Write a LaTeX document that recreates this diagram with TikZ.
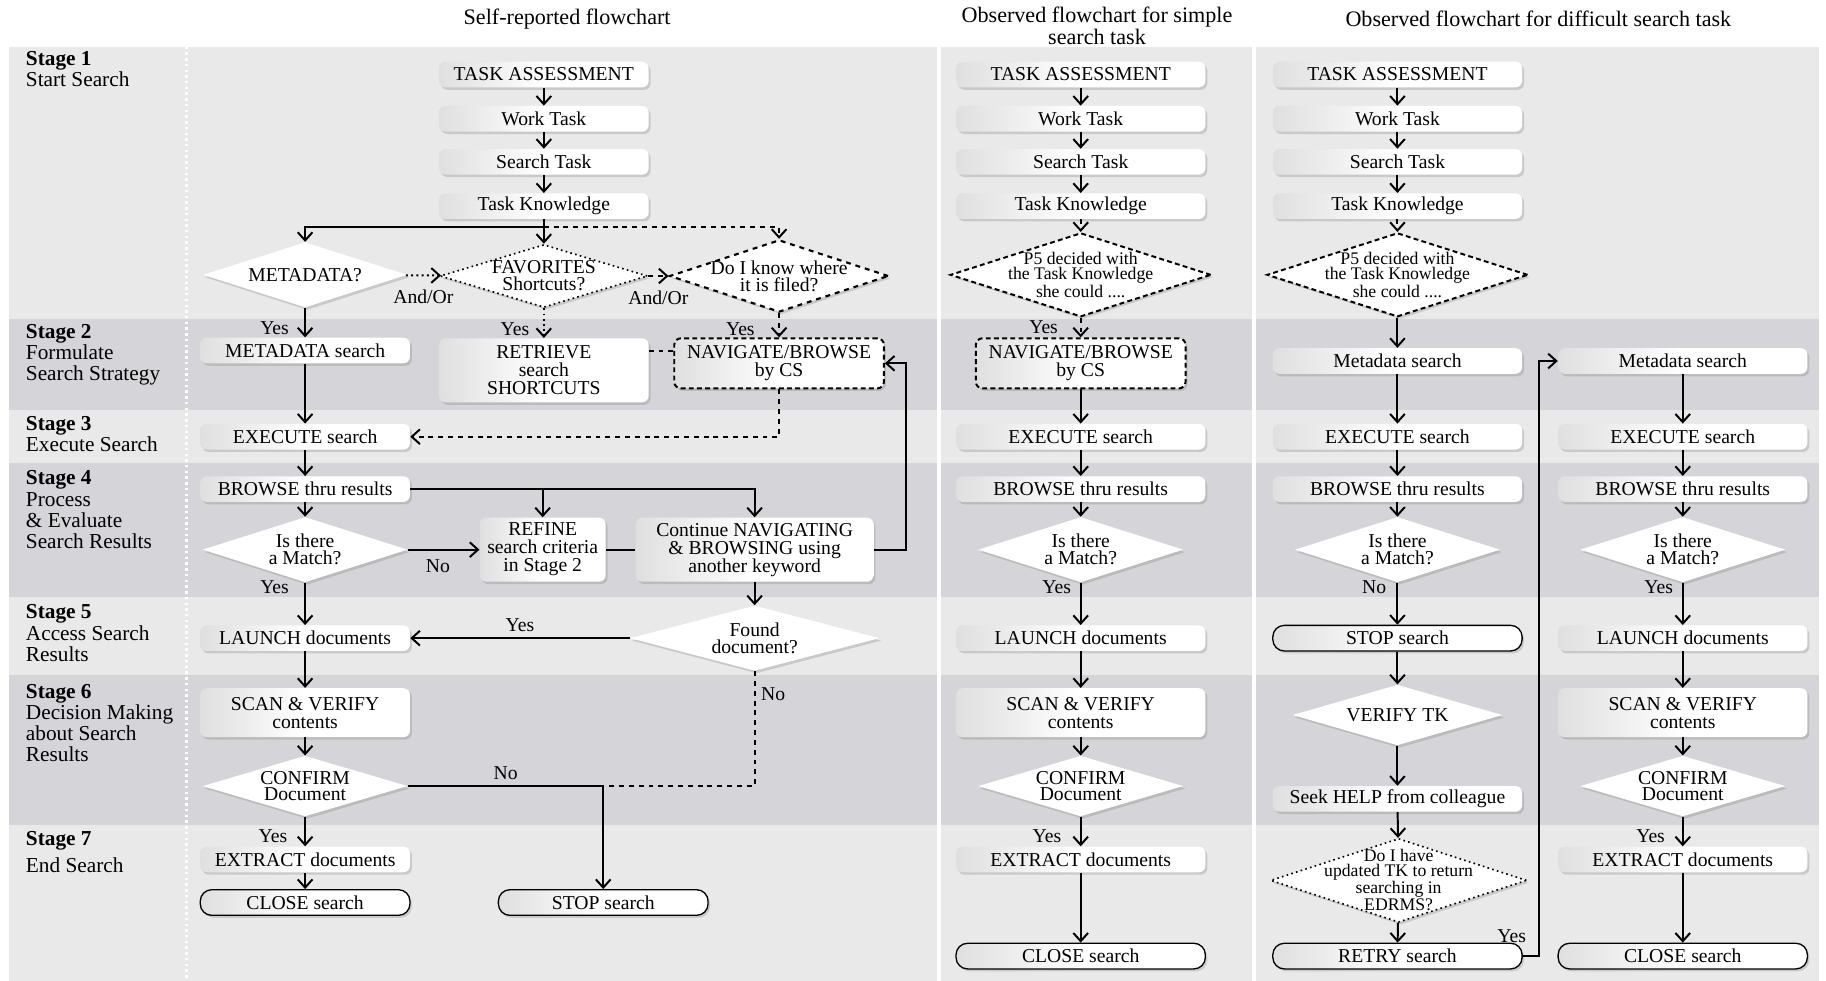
\documentclass[tikz,border=0pt]{standalone}
\usepackage{fontspec}
\setmainfont{Liberation Serif}
\usetikzlibrary{shapes.geometric, arrows.meta, shadows}

\definecolor{bandlight}{RGB}{233,233,233}
\definecolor{banddark}{RGB}{213,213,217}

\tikzset{
  nodefont/.style={font=\fontsize{12}{11}\selectfont},
  softshadow/.style={drop shadow={shadow xshift=1.2pt, shadow yshift=-1.5pt, opacity=0.3}},
  proc/.style={nodefont, rectangle, rounded corners=4pt, align=center, inner sep=1pt,
    left color=gray!25, right color=white, middle color=white,
    softshadow, minimum height=0.55cm},
  colnarrow/.style={minimum width=4.5cm},
  colwide/.style={minimum width=5.35cm},
  term/.style={proc, draw=black, line width=0.8pt, rounded corners=7pt},
  decide/.style={font=\fontsize{12}{10.3}\selectfont, shape=diamond, aspect=3, inner sep=-0.4cm,
    align=center, fill=white, softshadow, minimum width=4.4cm, minimum height=1.4cm},
  bigdecide/.style={decide, font=\fontsize{10.8}{9}\selectfont, minimum width=5.6cm, minimum height=1.8cm},
  flow/.style={->, line width=1.2pt},
  link/.style={line width=1.2pt},
  lbl/.style={nodefont},
  headtext/.style={font=\fontsize{13.5}{11}\selectfont, align=center},
  stagetext/.style={font=\fontsize{13}{13}\selectfont, align=left, anchor=north west, inner sep=0pt}
}

\begin{document}
\begin{tikzpicture}[x=0.025cm, y=-0.025cm, >={Straight Barb[length=5pt,width=9pt]}]
  \useasboundingbox (0,0) rectangle (1568,842);
  \fill[white] (0,0) rectangle (1568,842);

  % Stage bands
  \foreach \top/\bot/\col in {40/274/bandlight, 274/352/banddark, 352/398/bandlight,
      398/513/banddark, 513/580/bandlight, 580/708/banddark, 708/842/bandlight}
    \fill[\col] (8,\top) rectangle (1562,\bot);

  % Column separators
  \draw[white, line width=2.5pt] (806,40) -- (806,842);
  \draw[white, line width=2.5pt] (1077,40) -- (1077,842);
  \draw[white, line width=1.5pt, dotted] (160,40) -- (160,842);

  % Headings
  \node[headtext] (h1) at (487,16) {Self-reported flowchart};
  \node[headtext] (h2) at (942,22) {Observed flowchart for simple\\search task};
  \node[headtext] (h3) at (1321,16) {Observed flowchart for difficult search task};

  % Stage labels
  \node[stagetext] (s1) at (22,44) {\textbf{Stage 1}\\Start Search};
  \node[stagetext] (s2) at (22,278) {\textbf{Stage 2}\\Formulate\\Search Strategy};
  \node[stagetext] (s3) at (22,357) {\textbf{Stage 3}\\Execute Search};
  \node[stagetext] (s4) at (22,404) {\textbf{Stage 4}\\Process\\\& Evaluate\\Search Results};
  \node[stagetext] (s5) at (22,519) {\textbf{Stage 5}\\Access Search\\Results};
  \node[stagetext] (s6) at (22,587) {\textbf{Stage 6}\\Decision Making\\about Search\\Results};
  \node[stagetext] (s7) at (22,714) {\textbf{Stage 7}\\[3pt]End Search};

  % Stage 1 boxes, same in the three charts
  \foreach \c/\x/\w in {1/467/colnarrow, 2/928/colwide, 3/1200/colwide} {
    \node[proc, \w] (ta\c) at (\x,64) {TASK ASSESSMENT};
    \node[proc, \w] (wt\c) at (\x,102) {Work Task};
    \node[proc, \w] (st\c) at (\x,139) {Search Task};
    \node[proc, \w] (tk\c) at (\x,177) {Task Knowledge};
    \draw[flow] (ta\c) -- (wt\c);
    \draw[flow] (wt\c) -- (st\c);
    \draw[flow] (st\c) -- (tk\c);
  }

  % Self-reported flowchart
  \node[decide, minimum width=4.375cm] (meta1) at (262,236) {METADATA?};
  \node[decide, draw, dotted, line width=1pt, minimum width=4.45cm, minimum height=1.35cm] (fav1) at (467,237) {FAVORITES\\Shortcuts?};
  \node[decide, draw, dashed, line width=1.3pt, minimum width=4.7cm, minimum height=1.55cm] (know1) at (669,237) {Do I know where\\it is filed?};
  \node[proc, colnarrow] (msearch1) at (262,301) {METADATA search};
  \node[proc, colnarrow, minimum height=1.375cm] (retr1) at (467,318) {RETRIEVE\\search\\SHORTCUTS};
  \node[proc, colnarrow, draw, densely dashed, line width=1.2pt, minimum height=1.075cm] (nav1) at (669,312) {NAVIGATE/BROWSE\\by CS};
  \node[proc, colnarrow] (exec1) at (262,375) {EXECUTE search};
  \node[proc, colnarrow] (brow1) at (262,420) {BROWSE thru results};
  \node[decide] (match1) at (262,472) {Is there\\a Match?};
  \node[proc, minimum width=2.7cm, minimum height=1.375cm] (refine1) at (466,472) {REFINE\\search criteria\\in Stage 2};
  \node[proc, minimum width=5.1cm, minimum height=1.375cm] (cont1) at (648,472) {Continue NAVIGATING\\\& BROWSING using\\another keyword};
  \node[proc, colnarrow] (launch1) at (262,548) {LAUNCH documents};
  \node[decide, minimum width=5.35cm] (found1) at (648,548) {Found\\document?};
  \node[proc, colnarrow, minimum height=1.05cm] (scan1) at (262,612) {SCAN \& VERIFY\\contents};
  \node[decide, minimum height=1.3cm] (conf1) at (262,675) {CONFIRM\\Document};
  \node[proc, colnarrow] (extr1) at (262,738) {EXTRACT documents};
  \node[term, colnarrow] (close1) at (262,775) {CLOSE search};
  \node[term, colnarrow] (stop1) at (518,775) {STOP search};
  \coordinate (fork1) at (467,195);
  \coordinate (join1) at (518,675);

  \draw[flow] (tk1) -- (fav1);
  \draw[flow] (fork1) -| (meta1.north);
  \draw[flow, dashed] (fork1) -| (know1.north);
  \draw[flow, dotted] (meta1) -- (fav1) node[lbl, midway, below=5pt] {And/Or};
  \draw[flow, dashed] (fav1) -- (know1) node[lbl, midway, below=5pt] {And/Or};
  \draw[flow] (meta1) -- (msearch1) node[lbl, pos=0.7, left=6pt] {Yes};
  \draw[flow, dotted] (fav1) -- (retr1) node[lbl, pos=0.7, left=5pt] {Yes};
  \draw[flow, dashed] (know1) -- (nav1) node[lbl, pos=0.65, left=11pt] {Yes};
  \draw[link, dashed] ([yshift=0.27cm]nav1.west) -- ([yshift=0.27cm]nav1.west -| retr1.east);
  \draw[flow] (msearch1) -- (exec1);
  \draw[flow, dashed] (nav1) |- (exec1);
  \draw[flow] (exec1) -- (brow1);
  \draw[flow] (brow1) -- (match1);
  \draw[flow] (brow1) -| (cont1);
  \draw[flow] (brow1.east -| refine1.north) -- (refine1);
  \draw[flow] (match1) -- (refine1) node[lbl, pos=0.42, below=2pt] {No};
  \draw[link] (refine1) -- (cont1);
  \draw[flow] (cont1.east) -- ++(28,0) |- (nav1);
  \draw[flow] (match1) -- (launch1) node[lbl, pos=0.1, left=6pt] {Yes};
  \draw[flow] (cont1) -- (found1);
  \draw[flow] (found1) -- (launch1) node[lbl, midway, above] {Yes};
  \draw[link, dashed] (found1) |- (join1) node[lbl, pos=0.1, right] {No};
  \draw[flow] (launch1) -- (scan1);
  \draw[flow] (scan1) -- (conf1);
  \draw[flow] (conf1) -| (stop1) node[lbl, pos=0.25, above] {No};
  \draw[flow] (conf1) -- (extr1) node[lbl, pos=0.65, left=7pt] {Yes};
  \draw[flow] (extr1) -- (close1);

  % Observed flowchart, simple search task
  \node[bigdecide, draw, densely dashed, line width=1.2pt] (p52) at (928,236) {P5 decided with\\the Task Knowledge\\she could ....};
  \node[proc, colnarrow, draw, densely dashed, line width=1.2pt, minimum height=1.075cm] (nav2) at (928,312) {NAVIGATE/BROWSE\\by CS};
  \node[proc, colwide] (exec2) at (928,375) {EXECUTE search};
  \node[proc, colwide] (brow2) at (928,420) {BROWSE thru results};
  \node[decide] (match2) at (928,472) {Is there\\a Match?};
  \node[proc, colwide] (launch2) at (928,548) {LAUNCH documents};
  \node[proc, colwide, minimum height=1.05cm] (scan2) at (928,612) {SCAN \& VERIFY\\contents};
  \node[decide, minimum height=1.3cm] (conf2) at (928,675) {CONFIRM\\Document};
  \node[proc, colwide] (extr2) at (928,738) {EXTRACT documents};
  \node[term, colwide] (close2) at (928,821) {CLOSE search};

  \draw[flow, dashed] (tk2) -- (p52);
  \draw[flow, dashed] (p52) -- (nav2) node[lbl, pos=0.5, left=10pt] {Yes};
  \foreach \a/\b in {nav2/exec2, exec2/brow2, brow2/match2, launch2/scan2, scan2/conf2, extr2/close2}
    \draw[flow] (\a) -- (\b);
  \draw[flow] (match2) -- (launch2) node[lbl, pos=0.1, left=2pt] {Yes};
  \draw[flow] (conf2) -- (extr2) node[lbl, pos=0.65, left=8pt] {Yes};

  % Observed flowchart, difficult search task
  \node[bigdecide, draw, densely dashed, line width=1.2pt] (p53) at (1200,236) {P5 decided with\\the Task Knowledge\\she could ....};
  \node[proc, colwide] (meta3) at (1200,310) {Metadata search};
  \node[proc, colwide] (exec3) at (1200,375) {EXECUTE search};
  \node[proc, colwide] (brow3) at (1200,420) {BROWSE thru results};
  \node[decide] (match3) at (1200,472) {Is there\\a Match?};
  \node[term, colwide] (stop3) at (1200,548) {STOP search};
  \node[decide, minimum width=4.5cm, minimum height=1.3cm] (vtk3) at (1200,614) {VERIFY TK};
  \node[proc, colwide] (help3) at (1200,686) {Seek HELP from colleague};
  \node[bigdecide, draw, dotted, line width=1pt, minimum width=5.5cm, font=\fontsize{10.8}{8.6}\selectfont] (upd3) at (1201,756) {Do I have\\updated TK to return\\searching in\\EDRMS?};
  \node[term, colwide] (retry3) at (1200,821) {RETRY search};

  \node[proc, colwide] (meta4) at (1445,310) {Metadata search};
  \node[proc, colwide] (exec4) at (1445,375) {EXECUTE search};
  \node[proc, colwide] (brow4) at (1445,420) {BROWSE thru results};
  \node[decide] (match4) at (1445,472) {Is there\\a Match?};
  \node[proc, colwide] (launch4) at (1445,548) {LAUNCH documents};
  \node[proc, colwide, minimum height=1.05cm] (scan4) at (1445,612) {SCAN \& VERIFY\\contents};
  \node[decide, minimum height=1.3cm] (conf4) at (1445,675) {CONFIRM\\Document};
  \node[proc, colwide] (extr4) at (1445,738) {EXTRACT documents};
  \node[term, colwide] (close4) at (1445,821) {CLOSE search};

  \draw[flow, dashed] (tk3) -- (p53);
  \foreach \a/\b in {p53/meta3, meta3/exec3, exec3/brow3, brow3/match3, stop3/vtk3,
      vtk3/help3, help3/upd3, upd3/retry3}
    \draw[flow] (\a) -- (\b);
  \draw[flow] (match3) -- (stop3) node[lbl, pos=0.1, left=3pt] {No};
  \draw[flow] (retry3.east) -- ++(14,0) node[lbl, above left=4pt] {Yes} |- (meta4);
  \foreach \a/\b in {meta4/exec4, exec4/brow4, brow4/match4, launch4/scan4, scan4/conf4, extr4/close4}
    \draw[flow] (\a) -- (\b);
  \draw[flow] (match4) -- (launch4) node[lbl, pos=0.1, left=2pt] {Yes};
  \draw[flow] (conf4) -- (extr4) node[lbl, pos=0.65, left=7pt] {Yes};
\end{tikzpicture}
\end{document}
